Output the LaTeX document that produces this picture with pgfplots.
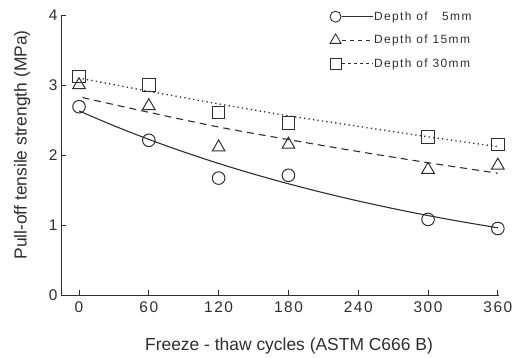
\documentclass[border=0pt]{standalone}
\usepackage{fontspec}
\setmainfont{Liberation Sans}
\newfontfamily\tickfont[LetterSpace=10]{Liberation Sans}
\newfontfamily\legfont[LetterSpace=12]{Liberation Sans}
\usepackage{pgfplots}
\pgfplotsset{compat=1.18}
\definecolor{ink}{gray}{0.18}
\begin{document}
\begin{tikzpicture}
\path (0,0) rectangle (522bp,358bp);
\begin{axis}[
  scale only axis,
  width=438bp, height=280bp,
  anchor=south west, at={(61bp,63bp)},
  xmin=-15.5, xmax=361, ymin=0, ymax=4,
  axis lines*=left,
  axis line style={ink, line width=0.9pt},
  xtick={0,60,120,180,240,300,360},
  ytick={0,1,2,3,4},
  tick style={ink, line width=0.9pt},
  major tick length=5bp,
  tick align=inside,
  /pgf/number format/assume math mode=true,
  tick label style={font=\tickfont\fontsize{15.5}{16}\selectfont, text=ink},
  xticklabel style={yshift=-3bp},
  xlabel={Freeze - thaw cycles (ASTM C666 B)},
  ylabel={Pull-off tensile strength (MPa)},
  every axis x label/.style={at={(axis description cs:0.5205,-0.182)}, anchor=center,
    font=\fontsize{17.5}{18}\selectfont, text=ink},
  every axis y label/.style={at={(axis description cs:-0.089,0.536)}, anchor=center, rotate=90,
    font=\fontsize{17.5}{18}\selectfont, text=ink},
  legend image code/.code={
    \draw[#1, mark=none] (6.5bp,0bp) -- (37bp,0bp);
    \draw[#1] plot coordinates {(0bp,0bp)};
  },
  legend style={at={(axis description cs:0.607,1.025)}, anchor=north west, draw=none, fill=none,
    font=\legfont\fontsize{12}{13}\selectfont, text=ink,
    nodes={text height=9bp, text depth=2bp, inner sep=1bp},
    row sep=10.5bp},
  legend cell align=left,
]
% fitted curves
\addplot[ink, line width=1.1pt, smooth, forget plot] coordinates {
 (0,2.63) (30,2.418) (60,2.223) (90,2.044) (120,1.879) (150,1.728) (180,1.589)
 (210,1.461) (240,1.343) (270,1.235) (300,1.135) (330,1.044) (360,0.960)};
\addplot[ink, line width=1.1pt, dash pattern=on 7bp off 5bp, smooth, forget plot] coordinates {
 (3,2.82) (60,2.61) (120,2.40) (180,2.22) (240,2.05) (300,1.89) (360,1.74)};
\addplot[ink, line width=1.3pt, dash pattern=on 1.3bp off 3.2bp, smooth, forget plot] coordinates {
 (3,3.09) (60,2.91) (120,2.73) (180,2.56) (240,2.41) (300,2.26) (360,2.12)};
% data
\addplot[ink, only marks, mark=o, mark size=6.3bp, line width=1pt, forget plot] coordinates {
 (0,2.69) (60,2.21) (120,1.67) (180,1.71) (300,1.08) (360,0.95)};
\addplot[ink, only marks, mark=triangle, mark size=7.3bp, line width=1pt, forget plot] coordinates {
 (0,3.00) (60,2.70) (120,2.11) (180,2.15) (300,1.79) (360,1.85)};
\addplot[ink, only marks, mark=square, mark size=6.3bp, line width=1pt, forget plot] coordinates {
 (0,3.12) (60,3.00) (120,2.61) (180,2.46) (300,2.26) (360,2.15)};
% legend
\addlegendimage{ink, line width=0.9pt, mark=o, mark size=5.5bp}
\addlegendentry{Depth of \ \ 5mm}
\addlegendimage{ink, line width=0.9pt, dash pattern=on 4bp off 4bp, mark=triangle, mark size=6.3bp, mark options={solid}}
\addlegendentry{Depth of 15mm}
\addlegendimage{ink, line width=0.9pt, dash pattern=on 3bp off 3bp, mark=square, mark size=5.5bp, mark options={solid}}
\addlegendentry{Depth of 30mm}
\end{axis}
\end{tikzpicture}
\end{document}
